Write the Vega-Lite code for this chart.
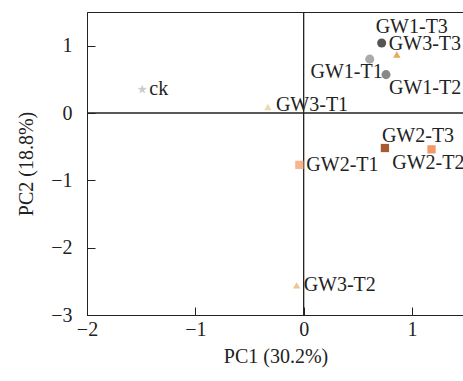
{
  "$schema": "https://vega.github.io/schema/vega-lite/v6.json",
  "autosize": {"type": "none"},
  "padding": {"left": 87, "top": 12, "right": 0, "bottom": 66},
  "width": 377,
  "height": 303,
  "config": {
    "font": "Liberation Serif",
    "view": {"stroke": "#222", "strokeWidth": 1},
    "axis": {
      "grid": false,
      "domainColor": "#222",
      "tickColor": "#222",
      "labelColor": "#222",
      "titleColor": "#222",
      "labelFont": "Liberation Serif",
      "titleFont": "Liberation Serif",
      "labelFontSize": 20,
      "titleFontSize": 20,
      "titleFontWeight": "normal",
      "labelFlush": false,
      "tickSize": -8
    },
    "text": {"font": "Liberation Serif", "fontSize": 20, "fill": "#222", "baseline": "middle"}
  },
  "data": {
    "values": [
      {"name": "ck", "group": "ck", "pc1": -1.49, "pc2": 0.35},
      {"name": "GW1-T1", "group": "GW1", "pc1": 0.61, "pc2": 0.8},
      {"name": "GW1-T2", "group": "GW1", "pc1": 0.76, "pc2": 0.57},
      {"name": "GW1-T3", "group": "GW1", "pc1": 0.72, "pc2": 1.04},
      {"name": "GW2-T1", "group": "GW2", "pc1": -0.04, "pc2": -0.77},
      {"name": "GW2-T2", "group": "GW2", "pc1": 1.18, "pc2": -0.54},
      {"name": "GW2-T3", "group": "GW2", "pc1": 0.75, "pc2": -0.52},
      {"name": "GW3-T1", "group": "GW3", "pc1": -0.33, "pc2": 0.09},
      {"name": "GW3-T2", "group": "GW3", "pc1": -0.065, "pc2": -2.56},
      {"name": "GW3-T3", "group": "GW3", "pc1": 0.86, "pc2": 0.87}
    ]
  },
  "encoding": {
    "x": {
      "field": "pc1", "type": "quantitative",
      "scale": {"domain": [-2, 1.48], "nice": false, "zero": false},
      "axis": {"values": [-2, -1, 0, 1], "title": "PC1 (30.2%)", "labelPadding": 12, "titlePadding": 7}
    },
    "y": {
      "field": "pc2", "type": "quantitative",
      "scale": {"domain": [-3, 1.5], "nice": false, "zero": false},
      "axis": {"values": [-3, -2, -1, 0, 1], "title": "PC2 (18.8%)", "labelPadding": 23, "titlePadding": 14}
    }
  },
  "layer": [
    {
      "data": {"values": [{"v": 0}]},
      "mark": {"type": "rule", "color": "#222", "strokeWidth": 1.3},
      "encoding": {"x": {"field": "v", "type": "quantitative"}, "y": null}
    },
    {
      "data": {"values": [{"v": 0}]},
      "mark": {"type": "rule", "color": "#222", "strokeWidth": 1.3},
      "encoding": {"y": {"field": "v", "type": "quantitative"}, "x": null}
    },
    {
      "mark": {"type": "point", "filled": true, "opacity": 1},
      "encoding": {
        "color": {
          "field": "name", "type": "nominal", "legend": null,
          "scale": {
            "domain": ["ck", "GW1-T1", "GW1-T2", "GW1-T3", "GW2-T1", "GW2-T2", "GW2-T3", "GW3-T1", "GW3-T2", "GW3-T3"],
            "range": ["#cccccc", "#aaaaaa", "#888888", "#555555", "#f5b68f", "#f0996a", "#a85a32", "#f1d8aa", "#eac890", "#e5ad55"]
          }
        },
        "shape": {
          "field": "group", "type": "nominal", "legend": null,
          "scale": {
            "domain": ["ck", "GW1", "GW2", "GW3"],
            "range": ["M0,-1L0.24,-0.32L0.95,-0.31L0.38,0.12L0.59,0.81L0,0.4L-0.59,0.81L-0.38,0.12L-0.95,-0.31L-0.24,-0.32Z", "circle", "square", "triangle-up"]
          }
        },
        "size": {
          "field": "group", "type": "nominal", "legend": null,
          "scale": {"domain": ["ck", "GW1", "GW2", "GW3"], "range": [95, 55, 65, 85]}
        }
      }
    },
    {
      "transform": [{"filter": {"field": "name", "oneOf": ["ck", "GW2-T1", "GW3-T2"]}}],
      "mark": {"type": "text", "align": "left", "dx": 7, "dy": 0},
      "encoding": {"text": {"field": "name"}}
    },
    {
      "transform": [{"filter": {"field": "name", "equal": "GW3-T1"}}],
      "mark": {"type": "text", "align": "left", "dx": 8, "dy": -2},
      "encoding": {"text": {"field": "name"}}
    },
    {
      "transform": [{"filter": {"field": "name", "equal": "GW1-T3"}}],
      "mark": {"type": "text", "align": "left", "dx": -6, "dy": -16},
      "encoding": {"text": {"field": "name"}}
    },
    {
      "transform": [{"filter": {"field": "name", "equal": "GW3-T3"}}],
      "mark": {"type": "text", "align": "left", "dx": -8, "dy": -10},
      "encoding": {"text": {"field": "name"}}
    },
    {
      "transform": [{"filter": {"field": "name", "equal": "GW1-T1"}}],
      "mark": {"type": "text", "align": "right", "dx": 13, "dy": 13},
      "encoding": {"text": {"field": "name"}}
    },
    {
      "transform": [{"filter": {"field": "name", "equal": "GW1-T2"}}],
      "mark": {"type": "text", "align": "left", "dx": 3, "dy": 13},
      "encoding": {"text": {"field": "name"}}
    },
    {
      "transform": [{"filter": {"field": "name", "equal": "GW2-T3"}}],
      "mark": {"type": "text", "align": "left", "dx": -3, "dy": -12},
      "encoding": {"text": {"field": "name"}}
    },
    {
      "transform": [{"filter": {"field": "name", "equal": "GW2-T2"}}],
      "mark": {"type": "text", "align": "right", "dx": 33, "dy": 14},
      "encoding": {"text": {"field": "name"}}
    }
  ]
}
